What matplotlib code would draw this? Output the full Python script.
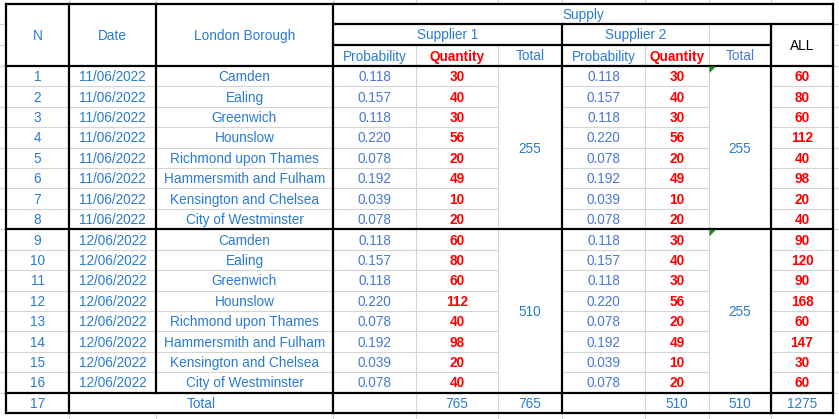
import matplotlib
matplotlib.use('Agg')
import matplotlib.pyplot as plt
from matplotlib.patches import Polygon

plt.rcParams['font.family'] = ['Liberation Sans', 'DejaVu Sans']

# table data
dates = ['11/06/2022'] * 8 + ['12/06/2022'] * 8
boroughs = ['Camden', 'Ealing', 'Greenwich', 'Hounslow', 'Richmond upon Thames',
            'Hammersmith and Fulham', 'Kensington and Chelsea', 'City of Westminster']
probability = [0.118, 0.157, 0.118, 0.220, 0.078, 0.192, 0.039, 0.078]
s1_qty_day1 = [30, 40, 30, 56, 20, 49, 10, 20]
s1_qty_day2 = [60, 80, 60, 112, 40, 98, 20, 40]
s2_qty_day1 = [30, 40, 30, 56, 20, 49, 10, 20]
s2_qty_day2 = [30, 40, 30, 56, 20, 49, 10, 20]

s1_qty = s1_qty_day1 + s1_qty_day2
s2_qty = s2_qty_day1 + s2_qty_day2
all_qty = [a + b for a, b in zip(s1_qty, s2_qty)]
probs = probability * 2
borough_col = boroughs * 2

# colours
BLUE = '#2a7bd0'
PBLUE = '#4a78d6'
RED = '#ff0000'
GRID = '#d4d4d4'
FS = 9.8

fig = plt.figure(figsize=(8.39, 4.19), dpi=100)
ax = fig.add_axes([0, 0, 1, 1])
ax.set_xlim(0, 839)
ax.set_ylim(419, 0)
ax.axis('off')

xs = [6, 69, 156, 333, 416, 498, 562, 645, 709, 771, 833]
top, h1, h2, h3 = 4, 24, 45, 66
bottom = 413
rh = (bottom - h3) / 17
rows = [h3 + i * rh for i in range(18)]


def hline(y, x0, x1, thick=False):
    ax.plot([x0, x1], [y, y], color='black' if thick else GRID,
            lw=1.6 if thick else 0.8, solid_capstyle='projecting', zorder=3 if thick else 2)


def vline(x, y0, y1, thick=False):
    ax.plot([x, x], [y0, y1], color='black' if thick else GRID,
            lw=1.6 if thick else 0.8, solid_capstyle='projecting', zorder=3 if thick else 2)


def txt(x0, x1, y0, y1, s, color=BLUE, bold=False):
    ax.text((x0 + x1) / 2, (y0 + y1) / 2 + 1, s, ha='center', va='center',
            fontsize=FS, color=color, fontweight='bold' if bold else 'normal', zorder=4)


# sheet gridlines in the margins
for x in xs[1:-1]:
    vline(x, 0, top)
    vline(x, bottom, 419)
for y in [h1, h2, h3] + rows[1:-1]:
    hline(y, 0, xs[0])
    hline(y, xs[-1], 839)

# thin inner lines
for i in range(1, 17):
    if i in (8, 16):
        continue
    hline(rows[i], xs[0], xs[5])
    hline(rows[i], xs[6], xs[8])
    hline(rows[i], xs[9], xs[10])
for x in [xs[4], xs[5], xs[7], xs[8]]:
    vline(x, h2, bottom)
vline(xs[8], h1, h2)

# thick borders
for x in [xs[0], xs[1], xs[3], xs[10]]:
    vline(x, top, bottom, True)
vline(xs[2], top, rows[16], True)
vline(xs[6], h1, bottom, True)
vline(xs[9], h1, bottom, True)
hline(top, xs[0], xs[10], True)
hline(h1, xs[3], xs[10], True)
hline(h2, xs[3], xs[9], True)
for y in [h3, rows[8], rows[16], bottom]:
    hline(y, xs[0], xs[10], True)

# headers
txt(xs[0], xs[1], top, h3, 'N')
txt(xs[1], xs[2], top, h3, 'Date')
txt(xs[2], xs[3], top, h3, 'London Borough')
txt(xs[3], xs[10], top, h1, 'Supply')
txt(xs[3], xs[6], h1, h2, 'Supplier 1')
txt(xs[6], xs[8], h1, h2, 'Supplier 2')
txt(xs[9], xs[10], h1, h3, 'ALL', color='black')
txt(xs[3], xs[4], h2, h3, 'Probability')
txt(xs[4], xs[5], h2, h3, 'Quantity', color=RED, bold=True)
txt(xs[5], xs[6], h2, h3, 'Total')
txt(xs[6], xs[7], h2, h3, 'Probability')
txt(xs[7], xs[8], h2, h3, 'Quantity', color=RED, bold=True)
txt(xs[8], xs[9], h2, h3, 'Total', color=PBLUE)

# body rows
for i in range(16):
    y0, y1 = rows[i], rows[i + 1]
    txt(xs[0], xs[1], y0, y1, str(i + 1))
    txt(xs[1], xs[2], y0, y1, dates[i])
    txt(xs[2], xs[3], y0, y1, borough_col[i])
    txt(xs[3], xs[4], y0, y1, '%.3f' % probs[i], color=PBLUE)
    txt(xs[4], xs[5], y0, y1, str(s1_qty[i]), color=RED, bold=True)
    txt(xs[6], xs[7], y0, y1, '%.3f' % probs[i], color=PBLUE)
    txt(xs[7], xs[8], y0, y1, str(s2_qty[i]), color=RED, bold=True)
    txt(xs[9], xs[10], y0, y1, str(all_qty[i]), color=RED, bold=True)

# merged day totals
txt(xs[5], xs[6], rows[0], rows[8], str(sum(s1_qty_day1)))
txt(xs[5], xs[6], rows[8], rows[16], str(sum(s1_qty_day2)))
txt(xs[8], xs[9], rows[0], rows[8], str(sum(s2_qty_day1)))
txt(xs[8], xs[9], rows[8], rows[16], str(sum(s2_qty_day2)))

# total row
y0, y1 = rows[16], rows[17]
txt(xs[0], xs[1], y0, y1, '17')
txt(xs[1], xs[3], y0, y1, 'Total')
txt(xs[4], xs[5], y0, y1, str(sum(s1_qty)))
txt(xs[5], xs[6], y0, y1, str(sum(s1_qty)))
txt(xs[7], xs[8], y0, y1, str(sum(s2_qty)))
txt(xs[8], xs[9], y0, y1, str(sum(s2_qty)))
txt(xs[9], xs[10], y0, y1, str(sum(all_qty)))

# green error indicators
for y in [rows[0], rows[8]]:
    ax.add_patch(Polygon([(xs[8] + 0.5, y + 0.5), (xs[8] + 7, y + 0.5), (xs[8] + 0.5, y + 7)],
                         closed=True, color='#1f8a1f', lw=0, zorder=5))

fig.savefig('out.png', dpi=100)
